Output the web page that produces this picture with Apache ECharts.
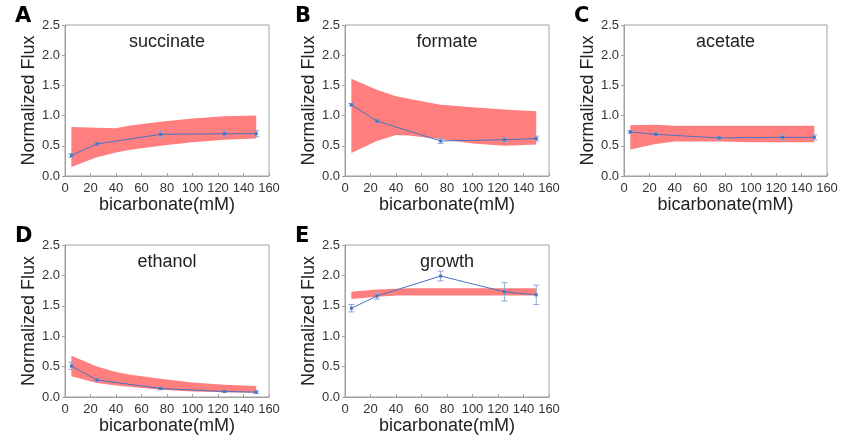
<!DOCTYPE html>
<html>
<head>
<meta charset="utf-8">
<script src="https://cdn.jsdelivr.net/npm/echarts@6/dist/echarts.min.js"></script>
<style>
  html, body { margin: 0; padding: 0; background: #fff; }
  #main { width: 841px; height: 436px; }
</style>
</head>
<body>
<div id="main"></div>
<script>
// measured points (bicarbonate mM)
const xPts = [5, 25, 75, 125, 150];
const bandX = [5, 25, 40, 50, 75, 100, 125, 150];

const names = ['succinate', 'formate', 'acetate', 'ethanol', 'growth'];
const letters = ['A', 'B', 'C', 'D', 'E'];

const succinate = [0.34, 0.53, 0.69, 0.70, 0.70];
const succinateErr = [0.03, 0.02, 0.05, 0.04, 0.05];
const succinateLow = [0.15, 0.31, 0.39, 0.43, 0.50, 0.56, 0.60, 0.62];
const succinateHigh = [0.81, 0.80, 0.79, 0.83, 0.90, 0.95, 0.99, 1.00];

const formate = [1.18, 0.91, 0.58, 0.60, 0.62];
const formateErr = [0.02, 0.02, 0.04, 0.03, 0.04];
const formateLow = [0.38, 0.58, 0.68, 0.67, 0.61, 0.54, 0.50, 0.52];
const formateHigh = [1.61, 1.43, 1.32, 1.28, 1.18, 1.14, 1.10, 1.07];

const acetate = [0.73, 0.69, 0.63, 0.64, 0.64];
const acetateErr = [0.02, 0.02, 0.02, 0.04, 0.04];
const acetateLow = [0.44, 0.53, 0.57, 0.57, 0.57, 0.56, 0.56, 0.56];
const acetateHigh = [0.84, 0.85, 0.83, 0.83, 0.83, 0.83, 0.83, 0.83];

const ethanol = [0.51, 0.28, 0.14, 0.09, 0.08];
const ethanolErr = [0.06, 0.02, 0.02, 0.01, 0.02];
const ethanolLow = [0.34, 0.23, 0.19, 0.17, 0.12, 0.09, 0.08, 0.07];
const ethanolHigh = [0.68, 0.50, 0.41, 0.37, 0.30, 0.24, 0.20, 0.18];

const growth = [1.46, 1.66, 1.99, 1.73, 1.68];
const growthErr = [0.06, 0.05, 0.08, 0.15, 0.16];
const growthLow = [1.61, 1.65, 1.67, 1.67, 1.67, 1.67, 1.67, 1.67];
const growthHigh = [1.73, 1.77, 1.78, 1.79, 1.79, 1.79, 1.79, 1.79];

const xTicks = [0, 20, 40, 60, 80, 100, 120, 140, 160];
const yTicks = [0, 0.5, 1.0, 1.5, 2.0, 2.5];

const panels = [
  [succinate, succinateErr, succinateLow, succinateHigh],
  [formate, formateErr, formateLow, formateHigh],
  [acetate, acetateErr, acetateLow, acetateHigh],
  [ethanol, ethanolErr, ethanolLow, ethanolHigh],
  [growth, growthErr, growthLow, growthHigh]
];

const boxes = [
  {left: 65, top: 25, width: 204, height: 151},
  {left: 345, top: 25, width: 204, height: 151},
  {left: 624, top: 25, width: 203, height: 151},
  {left: 65, top: 245, width: 204, height: 152},
  {left: 345, top: 245, width: 204, height: 152}
];

const font = 'Liberation Sans, Arial, sans-serif';
const bandColor = '#ff7f7f';
const lineColor = '#4a72c0';
const errColor = '#8aa6da';
const axisColor = '#a0a0a0';

const grid = [], xAxis = [], yAxis = [], series = [], graphic = [];

boxes.forEach((b, i) => {
  grid.push(Object.assign({
    show: true, borderColor: axisColor, borderWidth: 1, backgroundColor: 'transparent'
  }, b));

  xAxis.push({
    type: 'value', gridIndex: i, min: xTicks[0], max: xTicks[xTicks.length - 1], interval: 20,
    name: 'bicarbonate(mM)', nameLocation: 'middle', nameGap: 20,
    nameTextStyle: {fontFamily: font, fontSize: 18, color: '#222'},
    axisLine: {show: true, lineStyle: {color: axisColor}},
    axisTick: {show: true, inside: true, length: 3, lineStyle: {color: axisColor}},
    axisLabel: {fontFamily: font, fontSize: 13, color: '#333', margin: 6},
    splitLine: {show: false}
  });

  yAxis.push({
    type: 'value', gridIndex: i, min: yTicks[0], max: yTicks[yTicks.length - 1], interval: 0.5,
    name: 'Normalized Flux', nameLocation: 'middle', nameGap: 27,
    nameTextStyle: {fontFamily: font, fontSize: 18, color: '#222'},
    axisLine: {show: true, lineStyle: {color: axisColor}},
    axisTick: {show: true, inside: false, length: 3, lineStyle: {color: axisColor}},
    axisLabel: {fontFamily: font, fontSize: 13, color: '#333', margin: 5,
      formatter: v => v.toFixed(1)},
    splitLine: {show: false}
  });

  const [vals, errs, low, high] = panels[i];

  // model band: one polygon, upper edge left->right then lower edge back
  series.push({
    type: 'custom', xAxisIndex: i, yAxisIndex: i, z: 1, silent: true,
    data: bandX.map((x, k) => [x, low[k], high[k]]),
    encode: {x: 0, y: [1, 2]},
    renderItem: (params, api) => {
      if (params.dataIndex !== 0) return null;
      const up = bandX.map((x, k) => api.coord([x, high[k]]));
      const dn = bandX.map((x, k) => api.coord([x, low[k]])).reverse();
      return {
        type: 'polygon',
        shape: {points: up.concat(dn)},
        style: {fill: bandColor, stroke: null}
      };
    }
  });

  // error bars
  series.push({
    type: 'custom', xAxisIndex: i, yAxisIndex: i, z: 3,
    data: xPts.map((x, k) => [x, vals[k], errs[k]]),
    encode: {x: 0, y: 1},
    renderItem: (params, api) => {
      const x = api.value(0), y = api.value(1), e = api.value(2);
      const t = api.coord([x, y + e]), d = api.coord([x, y - e]);
      const w = 3;
      const st = {stroke: errColor, lineWidth: 1};
      return {
        type: 'group',
        children: [
          {type: 'line', shape: {x1: t[0], y1: t[1], x2: d[0], y2: d[1]}, style: st},
          {type: 'line', shape: {x1: t[0] - w, y1: t[1], x2: t[0] + w, y2: t[1]}, style: st},
          {type: 'line', shape: {x1: d[0] - w, y1: d[1], x2: d[0] + w, y2: d[1]}, style: st}
        ]
      };
    }
  });

  // measured line
  series.push({
    type: 'line', xAxisIndex: i, yAxisIndex: i, z: 4,
    data: xPts.map((x, k) => [x, vals[k]]),
    symbol: 'rect', symbolSize: 3, showSymbol: true,
    itemStyle: {color: lineColor},
    lineStyle: {color: lineColor, width: 1}
  });

  // panel title inside the plot
  graphic.push({
    type: 'text', x: b.left + b.width / 2, y: b.top + 17, z: 10,
    style: {text: names[i], fontFamily: font, fontSize: 18, fill: '#222',
      textAlign: 'center', textVerticalAlign: 'middle'}
  });
  // panel letter
  graphic.push({
    type: 'text', x: b.left - 50, y: b.top - 8, z: 10,
    style: {text: letters[i], fontFamily: 'DejaVu Sans, sans-serif', fontWeight: 'bold',
      fontSize: 21, fill: '#000', textAlign: 'left', textVerticalAlign: 'middle'}
  });
});

const chart = echarts.init(document.getElementById('main'), null, {renderer: 'canvas'});
chart.setOption({
  animation: false,
  backgroundColor: '#fff',
  grid, xAxis, yAxis, series, graphic
});
</script>
</body>
</html>
